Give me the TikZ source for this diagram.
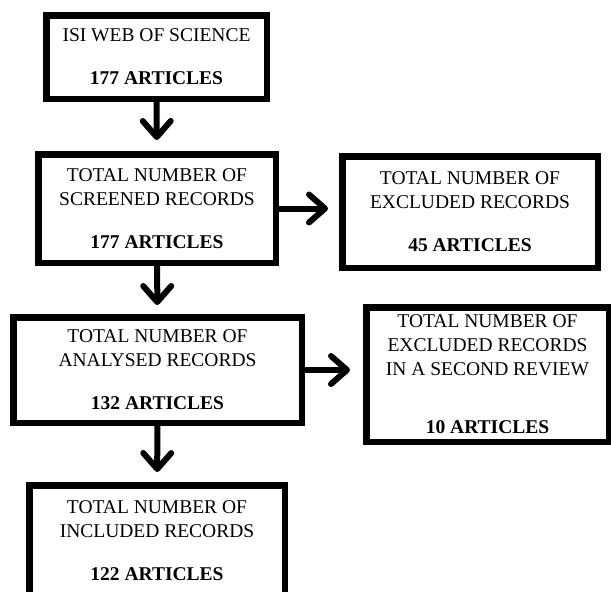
\documentclass[tikz,border=0pt]{standalone}
\usepackage{fontspec}
\setmainfont{Liberation Serif}
\usetikzlibrary{arrows.meta}
\begin{document}
\begin{tikzpicture}[x=1pt,y=-1pt,
  box/.style={draw=black, line width=6.5pt, fill=white, inner sep=0pt, align=center,
    font=\fontsize{19.5}{24}\selectfont},
  arr/.style={line width=6pt, -{Straight Barb[length=16pt,width=28pt,round]}}]
\useasboundingbox[fill=white] (0,0) rectangle (611,592);
\node[box, minimum width=220.5pt, minimum height=83.5pt] (src) at (156.5,57)
  {ISI WEB OF SCIENCE\\[19pt]\textbf{177 ARTICLES}};
\node[box, minimum width=237.5pt, minimum height=108.5pt] (scr) at (157,208.5)
  {TOTAL NUMBER OF\\SCREENED RECORDS\\[19pt]\textbf{177 ARTICLES}};
\node[box, minimum width=255.5pt, minimum height=111.5pt] (exa) at (470,212)
  {TOTAL NUMBER OF\\EXCLUDED RECORDS\\[19pt]\textbf{45 ARTICLES}};
\node[box, minimum width=288.5pt, minimum height=105.5pt] (ana) at (157.5,370)
  {TOTAL NUMBER OF\\ANALYSED RECORDS\\[19pt]\textbf{132 ARTICLES}};
\node[box, minimum width=242.5pt, minimum height=134.5pt] (exb) at (487.5,374.5)
  {\rule{0pt}{4pt}TOTAL NUMBER OF\\EXCLUDED RECORDS\\IN A SECOND REVIEW\\[34pt]\textbf{10 ARTICLES}};
\node[box, minimum width=255.5pt, minimum height=111.5pt] (inc) at (157,541)
  {TOTAL NUMBER OF\\INCLUDED RECORDS\\[19pt]\textbf{122 ARTICLES}};
\draw[arr, shorten >=11pt] (src) -- (scr);
\draw[arr, shorten >=9pt] (scr) -- (ana);
\draw[arr, shorten >=10pt] (ana) -- (inc);
\draw[arr, shorten >=11pt] (scr.east) -- (scr.east -| exa.west);
\draw[arr, shorten >=13pt] (ana.east) -- (ana.east -| exb.west);
\end{tikzpicture}
\end{document}
